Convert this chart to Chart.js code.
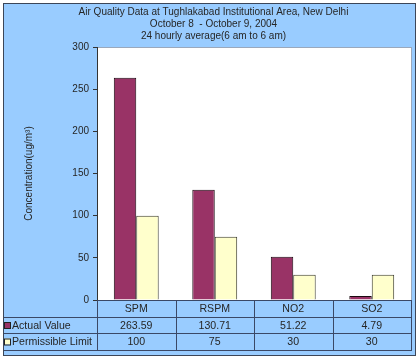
<!DOCTYPE html>
<html><head><meta charset="utf-8">
<script src="https://cdn.jsdelivr.net/npm/chart.js@4"></script>
<style>html,body{margin:0;padding:0;background:#fff}#wrap{width:420px;height:358px;position:relative}</style>
</head><body><div id="wrap"><canvas id="c" width="420" height="358"></canvas></div>
<script>
const categories = ['SPM', 'RSPM', 'NO2', 'SO2'];
const actualValues = [263.59, 130.71, 51.22, 4.79];
const permissibleLimits = [100, 75, 30, 30];
const seriesNames = ['Actual Value', 'Permissible Limit'];
const titleLines = ['Air Quality Data at Tughlakabad Institutional Area, New Delhi', 'October 8  - October 9, 2004', '24 hourly average(6 am to 6 am)'];
const yTicks = [0, 50, 100, 150, 200, 250, 300];
const yTitle = 'Concentration(ug/m\u00B3)';

const FONT = '"Liberation Sans", Arial, sans-serif';
const BG = '#99CCFF';
const SERIES_COLORS = ['#993366', '#FFFFCC'];
const LINE = '#3a4866';
const TEXT = '#262626';

Chart.defaults.font.family = FONT;
Chart.defaults.font.size = 10;

const framePlugin = {
  id: 'frame',
  beforeDraw(chart) {
    const ctx = chart.ctx, a = chart.chartArea;
    ctx.save();
    ctx.fillStyle = '#ffffff';
    ctx.fillRect(0, 0, chart.width, chart.height);
    ctx.fillStyle = BG;
    ctx.fillRect(3, 3, 412, 352);
    ctx.strokeStyle = '#3c4658';
    ctx.lineWidth = 1;
    ctx.strokeRect(3.5, 3.5, 412, 352);
    ctx.fillStyle = '#ffffff';
    ctx.fillRect(a.left, a.top, a.right - a.left, a.bottom - a.top);
    ctx.strokeStyle = '#9aa8bc';
    ctx.strokeRect(a.left + 0.5, a.top + 0.5, a.right - a.left, a.bottom - a.top);
    ctx.restore();
  },
  afterDraw(chart) {
    const ctx = chart.ctx, a = chart.chartArea, xs = chart.scales.x;
    const rows = [a.bottom, a.bottom + 17, a.bottom + 33, a.bottom + 50];
    const n = categories.length;
    const w = (a.right - a.left) / n;
    ctx.save();
    ctx.strokeStyle = LINE;
    ctx.lineWidth = 1;
    ctx.beginPath();
    ctx.moveTo(a.left, rows[0] + 0.5); ctx.lineTo(a.right + 1, rows[0] + 0.5);
    for (let r = 1; r < rows.length; r++) {
      ctx.moveTo(4, rows[r] + 0.5); ctx.lineTo(a.right + 1, rows[r] + 0.5);
    }
    for (let i = 0; i <= n; i++) {
      const x = Math.round(a.left + i * w) + 0.5;
      ctx.moveTo(x, rows[0]); ctx.lineTo(x, rows[3] + 1);
    }
    ctx.stroke();
    ctx.fillStyle = TEXT;
    ctx.font = '10.6px ' + FONT;
    ctx.textBaseline = 'middle';
    ctx.textAlign = 'center';
    const series = [actualValues, permissibleLimits];
    for (let i = 0; i < n; i++) {
      const cx = xs.getPixelForValue(i);
      ctx.fillText(categories[i], cx, (rows[0] + rows[1]) / 2 + 1);
      for (let s = 0; s < series.length; s++) {
        ctx.fillText(String(series[s][i]), cx, (rows[s + 1] + rows[s + 2]) / 2 + 1);
      }
    }
    ctx.textAlign = 'left';
    for (let s = 0; s < seriesNames.length; s++) {
      const cy = (rows[s + 1] + rows[s + 2]) / 2;
      ctx.fillStyle = SERIES_COLORS[s];
      ctx.fillRect(4.5, cy - 3, 6, 6);
      ctx.strokeStyle = '#222';
      ctx.strokeRect(4.5, cy - 3 + 0.5, 6, 6);
      ctx.fillStyle = TEXT;
      ctx.fillText(seriesNames[s], 12, cy + 1);
    }
    ctx.restore();
  }
};

new Chart(document.getElementById('c'), {
  type: 'bar',
  data: {
    labels: categories,
    datasets: [
      { label: seriesNames[0], data: actualValues, backgroundColor: SERIES_COLORS[0], borderColor: '#1a0a10', borderWidth: 1 },
      { label: seriesNames[1], data: permissibleLimits, backgroundColor: SERIES_COLORS[1], borderColor: '#3a3a2a', borderWidth: 1 }
    ]
  },
  options: {
    responsive: false,
    devicePixelRatio: 1,
    animation: false,
    layout: { padding: { left: 16, right: 9, top: 0, bottom: 58 } },
    datasets: { bar: { categoryPercentage: 0.572, barPercentage: 1.0 } },
    plugins: {
      legend: { display: false },
      tooltip: { enabled: false },
      title: {
        display: true,
        text: titleLines,
        color: TEXT,
        font: { size: 10, family: FONT, weight: 'normal', lineHeight: 1.2 },
        padding: { top: 6, bottom: 5 }
      }
    },
    scales: {
      x: { display: false, offset: true },
      y: {
        min: 0, max: 300,
        afterBuildTicks: (s) => { s.ticks = yTicks.map(v => ({ value: v })); },
        afterFit: (s) => { s.width = 81; },
        ticks: { color: TEXT, font: { size: 10, family: FONT }, padding: 4 },
        grid: { drawOnChartArea: false, drawTicks: true, tickLength: 4, color: '#333' },
        border: { display: true, color: '#333' },
        title: { display: true, text: yTitle, color: TEXT, font: { size: 10, family: FONT }, padding: { top: 7, bottom: 0 } }
      }
    }
  },
  plugins: [framePlugin]
});
</script>
</body></html>
